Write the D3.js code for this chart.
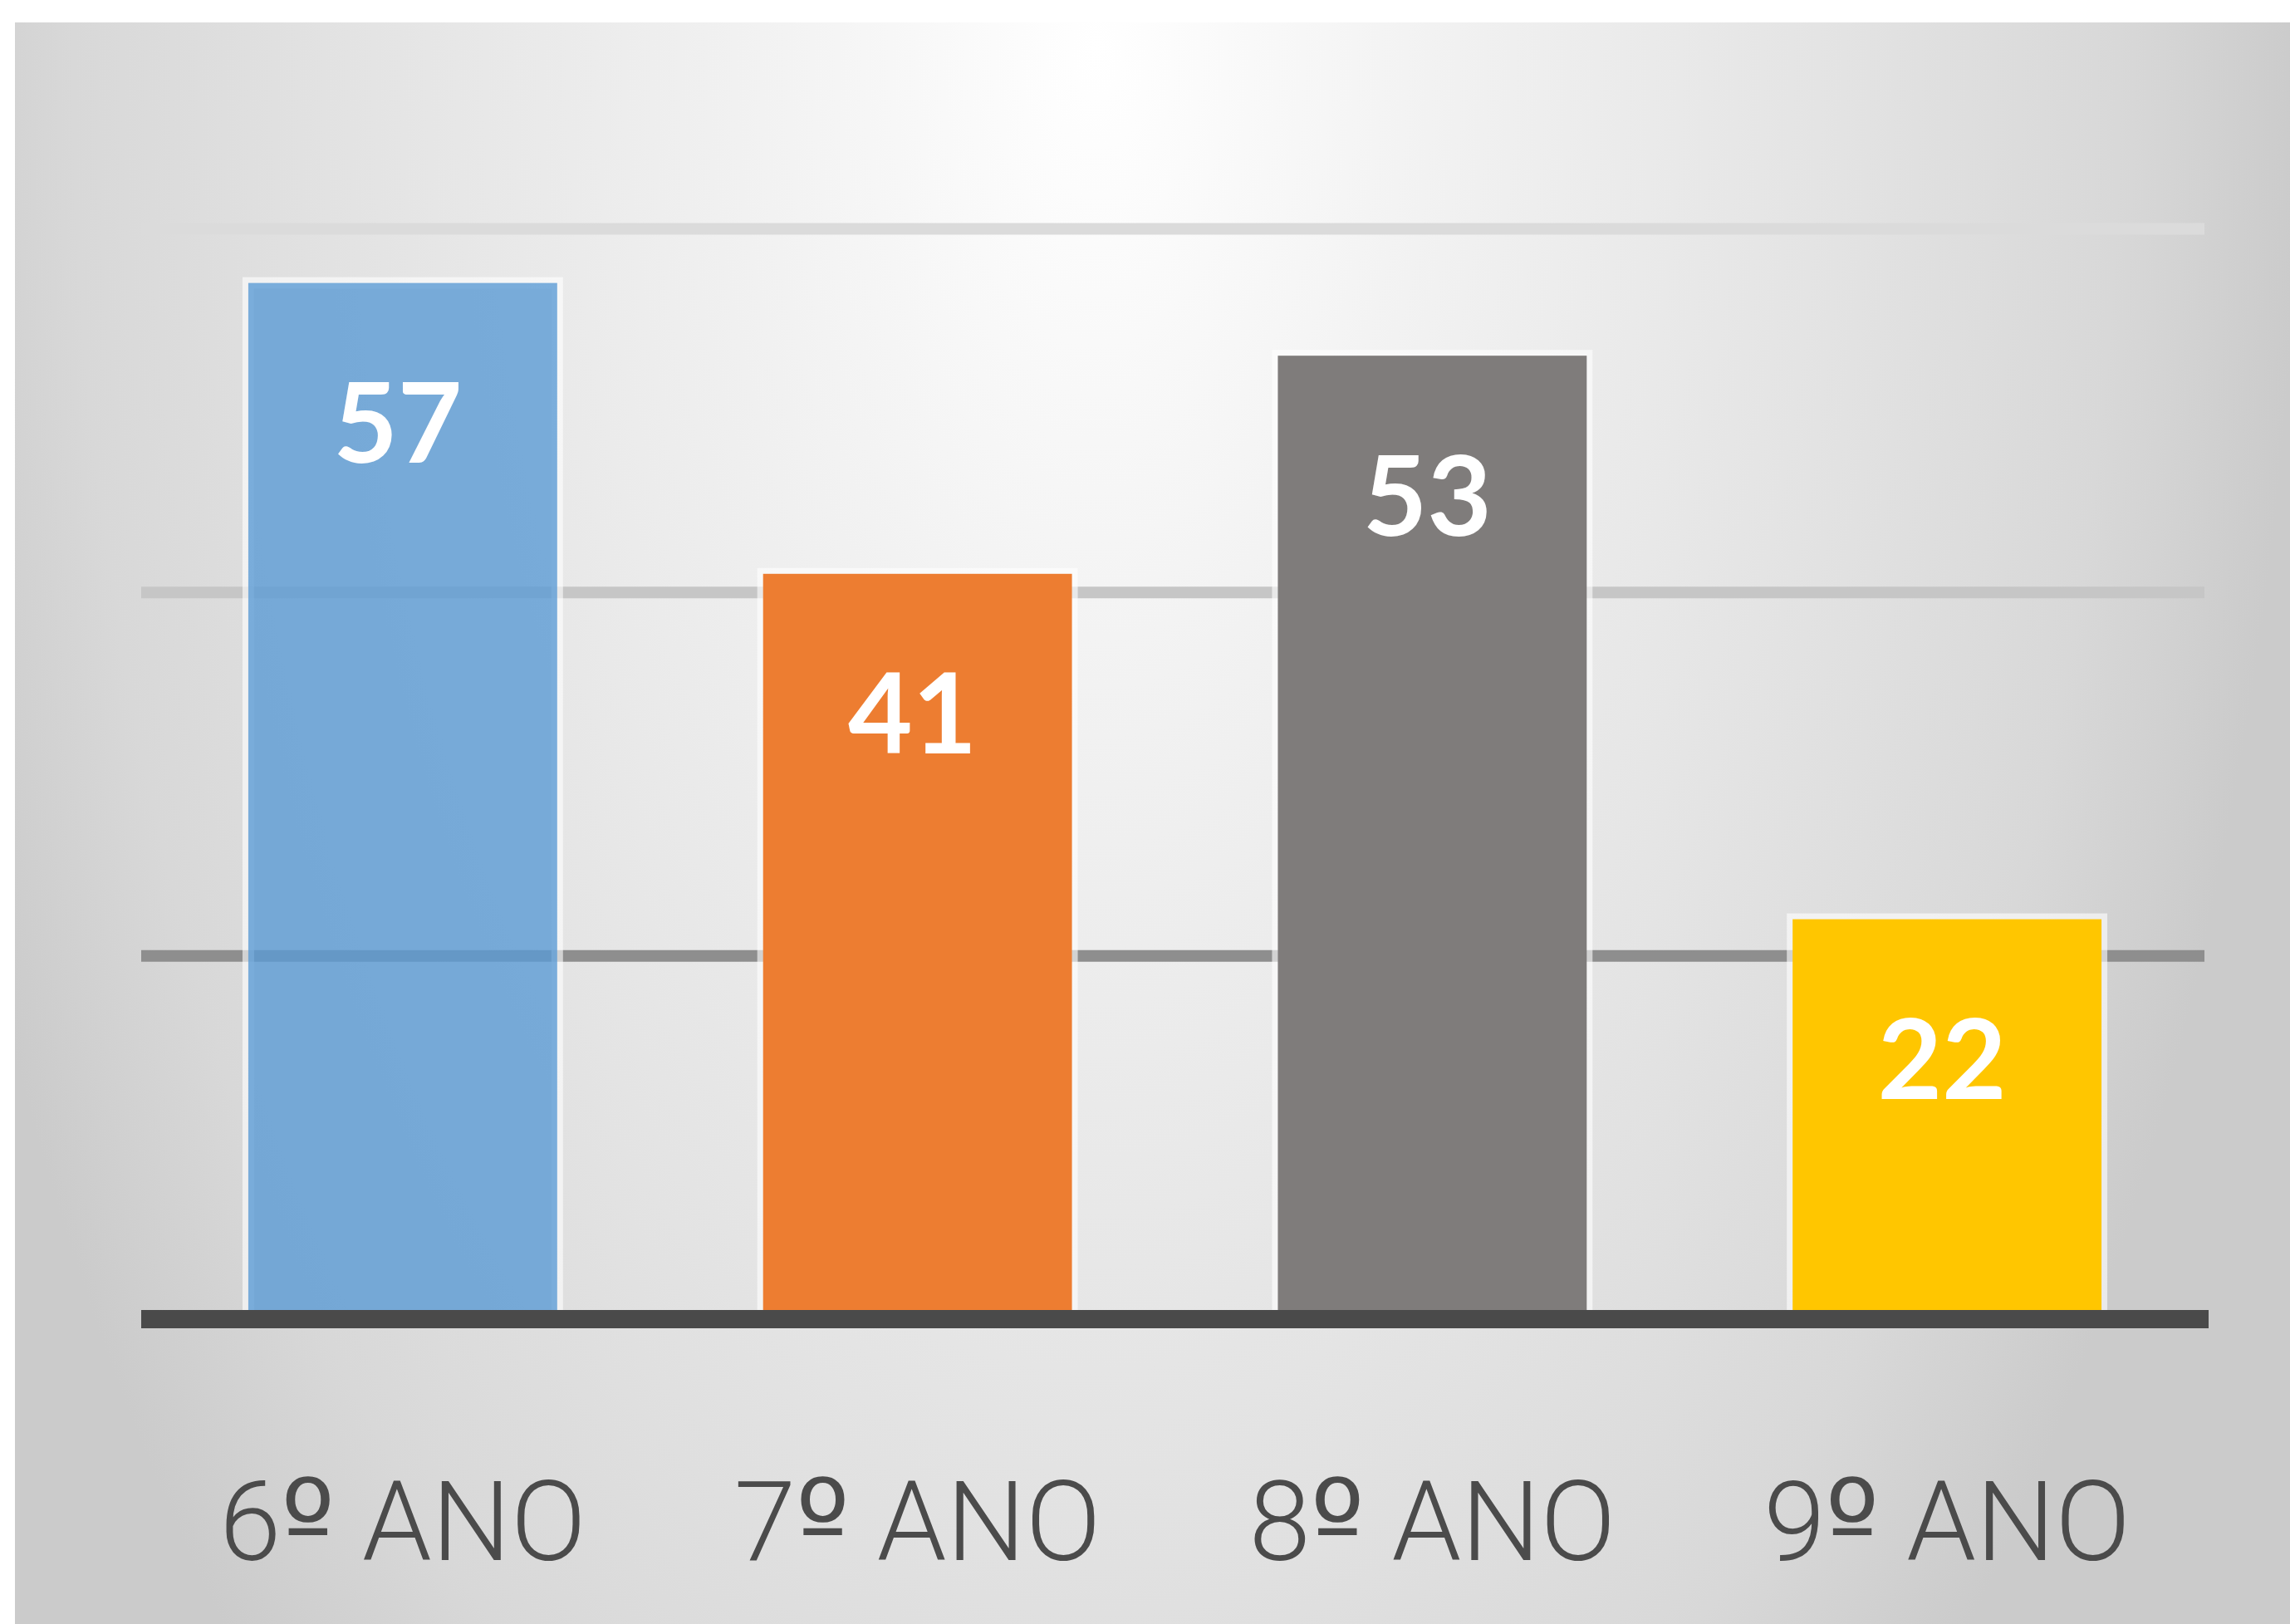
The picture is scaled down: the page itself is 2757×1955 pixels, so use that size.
<!DOCTYPE html>
<html>
<head>
<meta charset="utf-8">
<script src="https://cdn.jsdelivr.net/npm/d3@7"></script>
<style>
  body { margin: 0; background: #fff; }
  svg { display: block; }
</style>
</head>
<body>
<div id="chart"></div>
<script>
// data
const categories = ['6º ANO', '7º ANO', '8º ANO', '9º ANO'];
const values = [57, 41, 53, 22];
const gridTicks = [20, 40, 60];

const barColors = ['#5b9bd5', '#ed7d31', '#7f7c7b', '#ffc600'];
const barOpacity = [0.8, 1, 1, 1];
const gridColors = { 20: '#8e8e8e', 40: '#c6c6c6', 60: '#dbdbdb' };

const width = 2757;
const height = 1955;
const margin = { top: 275, right: 103, bottom: 367, left: 175 };

const svg = d3.select('#chart')
  .append('svg')
  .attr('width', width)
  .attr('height', height);

// background gradient (light at top centre, grey to the edges)
const defs = svg.append('defs');
const grad = defs.append('radialGradient')
  .attr('id', 'bg')
  .attr('gradientUnits', 'userSpaceOnUse')
  .attr('cx', 1320).attr('cy', 60).attr('r', 1450)
  .attr('gradientTransform', 'translate(1320,60) scale(1,1.9) translate(-1320,-60)');
grad.append('stop').attr('offset', 0).attr('stop-color', '#ffffff');
grad.append('stop').attr('offset', 0.3).attr('stop-color', '#f1f1f1');
grad.append('stop').attr('offset', 0.6).attr('stop-color', '#e4e4e4');
grad.append('stop').attr('offset', 0.85).attr('stop-color', '#d8d8d8');
grad.append('stop').attr('offset', 1).attr('stop-color', '#cbcbcb');

svg.append('rect')
  .attr('x', 18).attr('y', 27)
  .attr('width', width - 18).attr('height', height - 27)
  .attr('fill', 'url(#bg)');

const x = d3.scaleBand()
  .domain(categories)
  .range([margin.left, width - margin.right])
  .paddingInner(0.4)
  .paddingOuter(0.2);

const y = d3.scaleLinear()
  .domain([0, 60])
  .range([height - margin.bottom, margin.top]);

// gridlines
const grid = svg.append('g')
  .attr('transform', `translate(${margin.left - 5},0)`)
  .call(d3.axisLeft(y)
    .tickValues(gridTicks)
    .tickSize(-(width - margin.left - margin.right + 5))
    .tickFormat(''));
grid.select('.domain').remove();
grid.selectAll('.tick line')
  .attr('stroke', d => gridColors[d])
  .attr('stroke-width', 14);

// bars
const data = categories.map((c, i) => ({ cat: c, value: values[i], i }));

svg.append('g')
  .selectAll('rect')
  .data(data)
  .join('rect')
  .attr('x', d => x(d.cat))
  .attr('y', d => y(d.value))
  .attr('width', x.bandwidth())
  .attr('height', d => y(0) - y(d.value))
  .attr('fill', d => barColors[d.i])
  .attr('fill-opacity', d => barOpacity[d.i])
  .attr('stroke', '#ffffff')
  .attr('stroke-opacity', 0.6)
  .attr('stroke-width', 14)
  .style('paint-order', 'stroke');

// value labels inside the bars
svg.append('g')
  .selectAll('text')
  .data(data)
  .join('text')
  .attr('x', d => x(d.cat) + x.bandwidth() / 2 - 6)
  .attr('y', d => y(d.value) + 165)
  .attr('text-anchor', 'middle')
  .attr('dominant-baseline', 'central')
  .attr('fill', '#ffffff')
  .style('font-family', 'Lato, "Open Sans", sans-serif')
  .style('font-weight', 700)
  .style('font-size', '134px')
  .text(d => d.value);

// baseline, centred on zero
svg.append('line')
  .attr('x1', margin.left - 5).attr('x2', width - margin.right + 5)
  .attr('y1', y(0)).attr('y2', y(0))
  .attr('stroke', '#4a4a4a')
  .attr('stroke-width', 22);

// category labels
const xAxis = svg.append('g')
  .attr('transform', `translate(0,${y(0)})`)
  .call(d3.axisBottom(x).tickSize(0).tickPadding(0));
xAxis.select('.domain').remove();
xAxis.selectAll('text')
  .attr('y', 244)
  .attr('dy', 0)
  .attr('dominant-baseline', 'central')
  .attr('fill', '#4b4b4b')
  .style('font-family', 'Roboto, "Open Sans", sans-serif')
  .style('font-weight', 300)
  .style('font-size', '134px')
  .each(function (d) {
    // the ordinal sign drawn in a font that has the underlined º
    const parts = d.match(/^(\d+)(º)(.*)$/);
    if (!parts) return;
    const t = d3.select(this).text('');
    t.append('tspan').text(parts[1]);
    t.append('tspan')
      .style('font-family', '"DejaVu Sans", sans-serif')
      .style('font-weight', 400)
      .style('font-size', '138px')
      .text(parts[2]);
    t.append('tspan').text(parts[3]);
  });
</script>
</body>
</html>
